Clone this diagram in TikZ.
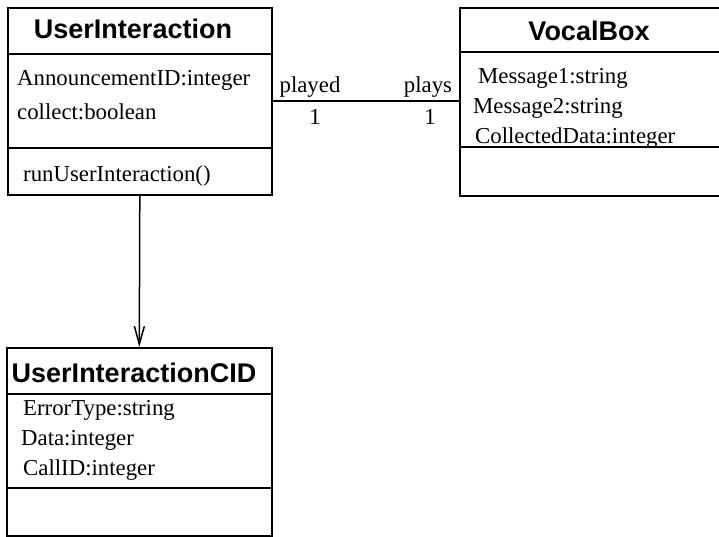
\documentclass[tikz,border=0pt]{standalone}
\usepackage{fontspec}
\setmainfont{Liberation Serif}
\newfontfamily\titlefont{Liberation Sans}
\usetikzlibrary{arrows.meta}
\begin{document}
\begin{tikzpicture}[x=1pt,y=-1pt,
  classbox/.style={draw, line width=1.6pt, inner sep=0pt, anchor=north west},
  sepline/.style={line width=1.5pt},
  ctitle/.style={font=\titlefont\bfseries\fontsize{27}{31}\selectfont, anchor=base, inner sep=0pt},
  attr/.style={font=\fontsize{22.8}{26}\selectfont, anchor=base west, inner sep=0pt},
  role/.style={font=\fontsize{22.8}{26}\selectfont, anchor=base, inner sep=0pt},
  conn/.style={line width=1.5pt}]
\useasboundingbox[fill=white] (0,0) rectangle (719,536);

% class boxes
\node[classbox, minimum width=264pt, minimum height=187pt] (ui) at (7,7) {};
\node[classbox, minimum width=262pt, minimum height=188pt] (vb) at (459,7) {};
\node[classbox, minimum width=265pt, minimum height=188pt] (cid) at (6,347) {};

% compartments
\draw[sepline] (ui.west |- 0,54) -- (ui.east |- 0,54);
\draw[sepline] (ui.west |- 0,148) -- (ui.east |- 0,148);
\draw[sepline] (vb.west |- 0,52) -- (vb.east |- 0,52);
\draw[sepline] (vb.west |- 0,147) -- (vb.east |- 0,147);
\draw[sepline] (cid.west |- 0,394) -- (cid.east |- 0,394);
\draw[sepline] (cid.west |- 0,488) -- (cid.east |- 0,488);

% UserInteraction
\node[ctitle] (uit) at (133,38) {UserInteraction};
\node[attr] (uia1) at (17,85) {AnnouncementID:integer};
\node[attr] (uia2) at (17,119) {collect:boolean};
\node[attr] (uim1) at (23,181) {runUserInteraction()};

% VocalBox
\node[ctitle] (vbt) at (589,40) {VocalBox};
\node[attr] (vba1) at (478,83) {Message1:string};
\node[attr] (vba2) at (473,113) {Message2:string};
\node[attr] (vba3) at (475,143) {CollectedData:integer};

% UserInteractionCID
\node[ctitle] (cidt) at (134,382) {UserInteractionCID};
\node[attr] (cida1) at (23,415) {ErrorType:string};
\node[attr] (cida2) at (21,445) {Data:integer};
\node[attr] (cida3) at (23,475) {CallID:integer};

% association
\coordinate (asA) at (ui.east |- 0,101);
\coordinate (asB) at (vb.west |- 0,101);
\draw[conn] (asA) -- (asB);
\node[role] (rpl) at (310,92) {played};
\node[role] (rps) at (428,92) {plays};
\node[role] (m1) at (315,124) {1};
\node[role] (m2) at (430,124) {1};

% directed association
\draw[conn, -{Straight Barb[length=18pt,width=10pt]}] (ui.south) -- (cid.north);
\end{tikzpicture}
\end{document}
